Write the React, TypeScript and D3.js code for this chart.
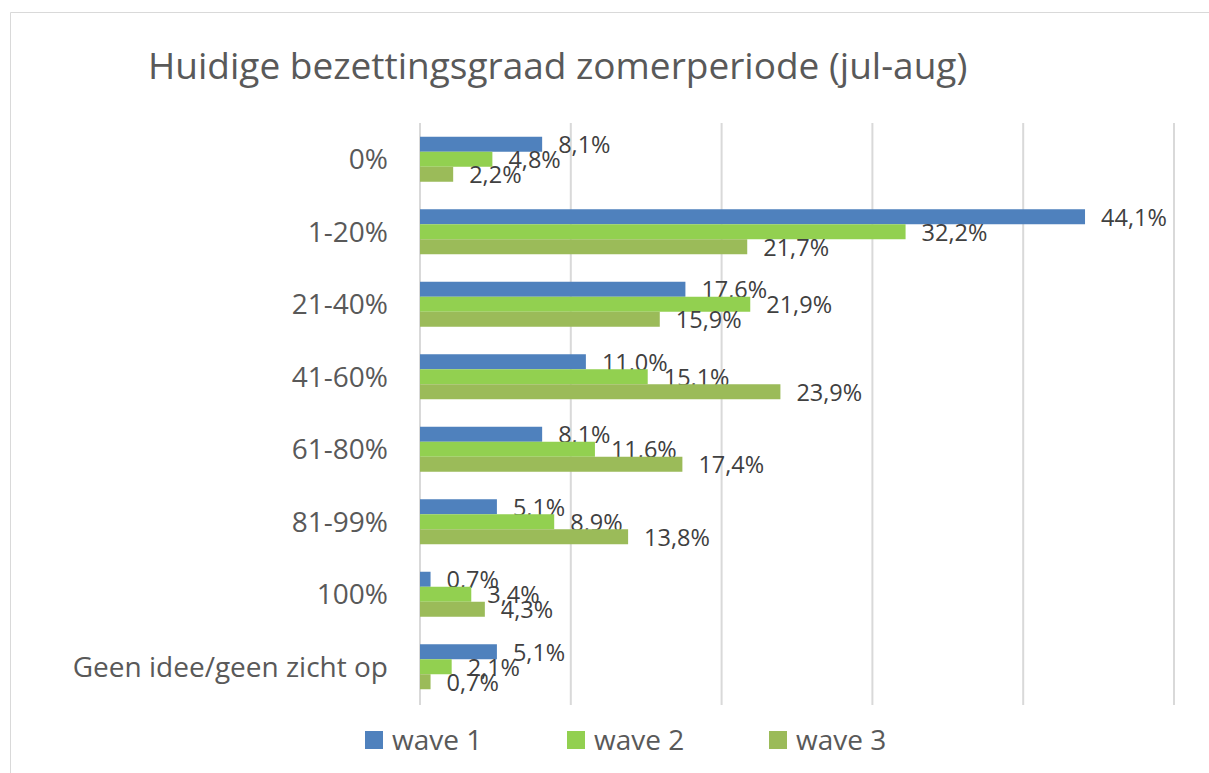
import React, { useEffect, useRef } from "react";
import { select, scaleLinear, scaleBand, range } from "d3";

const categories = ["0%", "1-20%", "21-40%", "41-60%", "61-80%", "81-99%", "100%", "Geen idee/geen zicht op"];
const wave1 = [8.1, 44.1, 17.6, 11.0, 8.1, 5.1, 0.7, 5.1];
const wave2 = [4.8, 32.2, 21.9, 15.1, 11.6, 8.9, 3.4, 2.1];
const wave3 = [2.2, 21.7, 15.9, 23.9, 17.4, 13.8, 4.3, 0.7];
const seriesNames = ["wave 1", "wave 2", "wave 3"];
const seriesColors = ["#4F81BD", "#92D050", "#9BBB59"];
const xTicks = [0, 10, 20, 30, 40, 50];

const width = 1209;
const height = 773;
const font = "'Open Sans', 'Noto Sans', sans-serif";

const fmt = (v: number) => v.toFixed(1).replace(".", ",") + "%";

const App = () => {
  const svgRef = useRef(null);

  useEffect(() => {
    const svg = select(svgRef.current);
    svg.selectAll("*").remove();

    const series = [wave1, wave2, wave3];

    const x = scaleLinear().domain([0, 50]).range([420, 1174]);
    const y = scaleBand().domain(categories).range([123, 703]);
    const barH = 15;

    // chart border (only top and left visible)
    svg.append("path")
      .attr("d", `M10.5,${height} V12.5 H${width}`)
      .attr("fill", "none")
      .attr("stroke", "#d9d9d9")
      .attr("stroke-width", 1);

    svg.append("text")
      .attr("x", 148)
      .attr("y", 79)
      .attr("font-family", font)
      .attr("font-size", 37)
      .attr("fill", "#595959")
      .text("Huidige bezettingsgraad zomerperiode (jul-aug)");

    // gridlines
    svg.selectAll(".grid")
      .data(xTicks)
      .join("line")
      .attr("class", "grid")
      .attr("x1", (d) => x(d))
      .attr("x2", (d) => x(d))
      .attr("y1", 123)
      .attr("y2", 705)
      .attr("stroke", "#d9d9d9")
      .attr("stroke-width", 2);

    // category labels
    svg.selectAll(".cat")
      .data(categories)
      .join("text")
      .attr("class", "cat")
      .attr("x", 388)
      .attr("y", (d) => y(d) + y.bandwidth() / 2)
      .attr("dy", "0.35em")
      .attr("text-anchor", "end")
      .attr("font-family", font)
      .attr("font-size", 28)
      .attr("fill", "#595959")
      .text((d) => d);

    series.forEach((vals, s) => {
      const g = svg.append("g");
      g.selectAll("rect")
        .data(vals)
        .join("rect")
        .attr("x", x(0))
        .attr("y", (d, i) => y(categories[i]) + y.bandwidth() / 2 - 1.5 * barH + s * barH)
        .attr("width", (d) => x(d) - x(0))
        .attr("height", barH)
        .attr("fill", seriesColors[s]);
      g.selectAll("text")
        .data(vals)
        .join("text")
        .attr("x", (d) => x(d) + 16)
        .attr("y", (d, i) => y(categories[i]) + y.bandwidth() / 2 - barH + s * barH + 1)
        .attr("dy", "0.35em")
        .attr("font-family", font)
        .attr("font-size", 23.5)
        .attr("fill", "#404040")
        .text((d) => fmt(d));
    });

    // legend
    const legendX = [365, 567, 769];
    const lg = svg.selectAll(".legend")
      .data(range(3))
      .join("g")
      .attr("class", "legend")
      .attr("transform", (d) => `translate(${legendX[d]},731)`);
    lg.append("rect")
      .attr("width", 18)
      .attr("height", 18)
      .attr("fill", (d) => seriesColors[d]);
    lg.append("text")
      .attr("x", 27)
      .attr("y", 9)
      .attr("dy", "0.35em")
      .attr("font-family", font)
      .attr("font-size", 28)
      .attr("fill", "#595959")
      .text((d) => seriesNames[d]);
  }, []);

  return (
    <svg
      ref={svgRef}
      width={width}
      height={height}
      style={{ position: "absolute", left: 0, top: 0, background: "#fff" }}
    ></svg>
  );
};

export default App;
